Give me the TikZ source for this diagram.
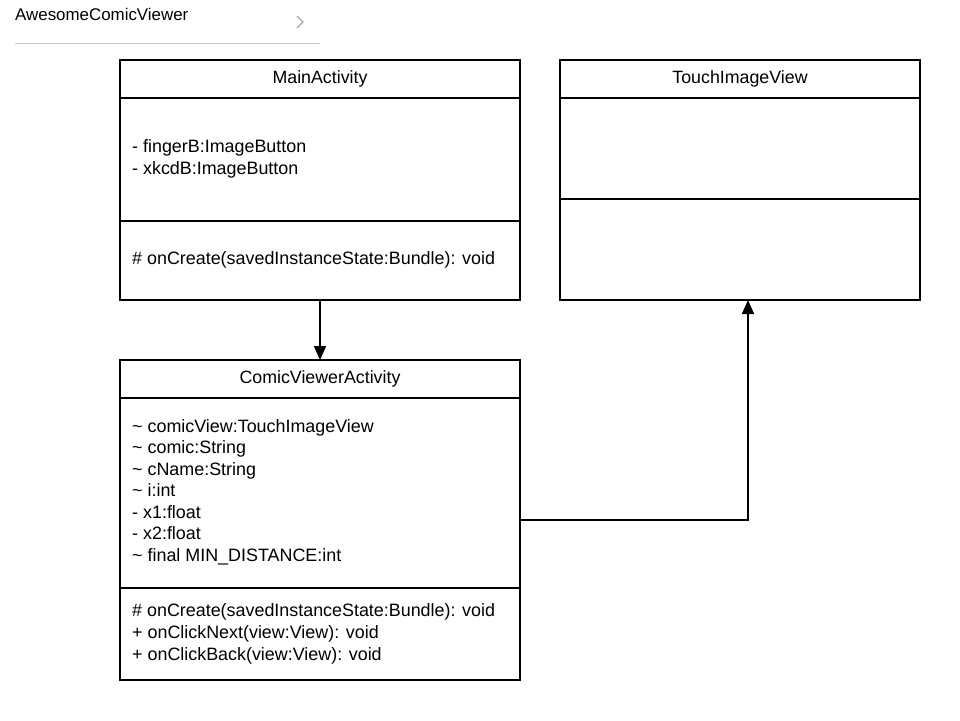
\documentclass[tikz,border=0pt]{standalone}
\usepackage{fontspec}
\setmainfont{Liberation Sans}
\usepackage{tikz}
\usetikzlibrary{positioning}
\usetikzlibrary{arrows.meta}

\tikzset{
    part/.style={draw=black,line width=1.6pt,anchor=north west,inner sep=0pt,outer sep=0pt,font=\fontsize{17.8}{21}\selectfont},
    member/.style={anchor=base west,inner sep=0pt,font=\fontsize{17.9}{21}\selectfont},
    assoc/.style={line width=1.6pt,-{Triangle[length=14pt,width=12pt]}}
}

\begin{document}
\begin{tikzpicture}[x=1pt,y=-1pt]
    \useasboundingbox (0,0) rectangle (960,720);

    % project tab
    \node (project)[anchor=west,inner sep=0pt,font=\fontsize{16.9}{20}\selectfont] at (15, 14) {AwesomeComicViewer};
    \draw [color=black!22,line width=1pt] (15, 43) -- (320, 43);
    \draw [color=black!35,line width=1.3pt] (297, 16) -- (303, 22) -- (297, 28);

    % MainActivity
    \node (mainTitle)[part,minimum width=400pt,minimum height=38pt] at (120, 60) {MainActivity};
    \node (mainAttrs)[part,minimum width=400pt,minimum height=123pt] at (120, 98) {};
    \node (mainMethods)[part,minimum width=400pt,minimum height=79pt] at (120, 221) {};
    \node (mainAttr1)[member] at (132, 152) {- fingerB:ImageButton};
    \node (mainAttr2)[member] at (132, 174) {- xkcdB:ImageButton};
    \node (mainOp1)[member] at (132, 264) {\# onCreate(savedInstanceState:Bundle): void};

    % TouchImageView
    \node (tivTitle)[part,minimum width=360pt,minimum height=38pt] at (560, 60) {TouchImageView};
    \node (tivAttrs)[part,minimum width=360pt,minimum height=101pt] at (560, 98) {};
    \node (tivMethods)[part,minimum width=360pt,minimum height=101pt] at (560, 199) {};

    % ComicViewerActivity
    \node (cvTitle)[part,minimum width=400pt,minimum height=38pt] at (120, 360) {ComicViewerActivity};
    \node (cvAttrs)[part,minimum width=400pt,minimum height=190pt] at (120, 398) {};
    \node (cvMethods)[part,minimum width=400pt,minimum height=92pt] at (120, 588) {};
    \foreach \txt [count=\i] in {\textasciitilde{} comicView:TouchImageView, \textasciitilde{} comic:String,
        \textasciitilde{} cName:String, \textasciitilde{} i:int, - x1:float, - x2:float,
        \textasciitilde{} final MIN\_DISTANCE:int}
        \node (cvAttr\i)[member] at (132, 432+21.5*\i-21.5) {\txt};
    \foreach \txt [count=\i] in {\# onCreate(savedInstanceState:Bundle): void,
        + onClickNext(view:View): void, + onClickBack(view:View): void}
        \node (cvOp\i)[member] at (132, 616+22*\i-22) {\txt};

    % associations
    \coordinate (bend) at (748, 520);
    \path [assoc] (mainMethods.south) edge (cvTitle.north);
    \draw [assoc] (bend -| cvAttrs.east) -- (bend) -- (bend |- tivMethods.south);
\end{tikzpicture}
\end{document}
